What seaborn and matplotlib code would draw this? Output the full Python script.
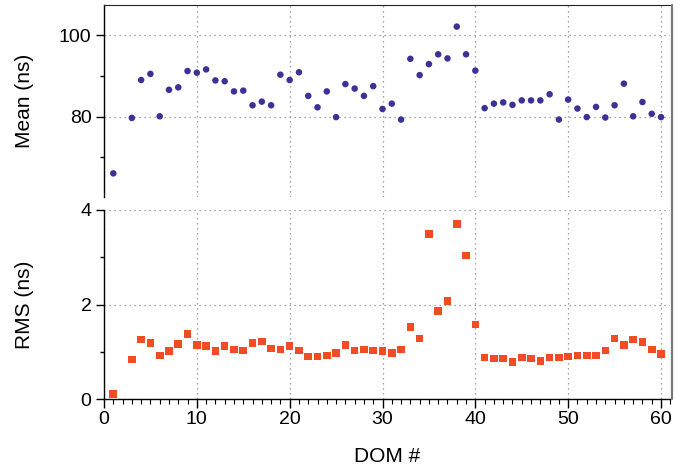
import numpy as np
import pandas as pd
import matplotlib
matplotlib.use("Agg")
import matplotlib.pyplot as plt
import seaborn as sns
from matplotlib.ticker import MultipleLocator, FixedLocator
from matplotlib.lines import Line2D

dom = [1] + list(range(3, 61))
mean_ns = [66.1, 79.7, 89.0, 90.5, 80.1, 86.6, 87.2, 91.2, 90.8, 91.6,
           88.9, 88.7, 86.2, 86.4, 82.8, 83.7, 82.8, 90.3, 89.0, 90.9,
           85.1, 82.3, 86.2, 79.9, 88.0, 86.9, 85.1, 87.5, 81.9, 83.2,
           79.3, 94.2, 90.2, 92.9, 95.3, 94.3, 102.1, 95.3, 91.3, 82.1,
           83.2, 83.5, 82.9, 84.0, 84.0, 84.0, 85.5, 79.3, 84.2, 82.0,
           79.9, 82.4, 79.8, 82.8, 88.1, 80.1, 83.6, 80.7, 79.9]
rms_ns = [0.10, 0.84, 1.26, 1.18, 0.92, 1.01, 1.16, 1.37, 1.14, 1.12,
          1.01, 1.12, 1.05, 1.03, 1.18, 1.22, 1.07, 1.05, 1.12, 1.03,
          0.90, 0.90, 0.92, 0.97, 1.14, 1.03, 1.05, 1.03, 1.01, 0.97,
          1.05, 1.52, 1.28, 3.49, 1.86, 2.07, 3.70, 3.04, 1.58, 0.88,
          0.86, 0.86, 0.78, 0.88, 0.86, 0.80, 0.88, 0.88, 0.90, 0.92,
          0.92, 0.92, 1.03, 1.28, 1.14, 1.26, 1.20, 1.05, 0.95]
x_ticks = [0, 10, 20, 30, 40, 50, 60]

df = pd.DataFrame({"DOM": dom, "Mean": mean_ns, "RMS": rms_ns})

sns.set_style("ticks")
plt.rcParams['font.family'] = ['Liberation Sans', 'DejaVu Sans']
plt.rcParams['text.color'] = 'black'
plt.rcParams['axes.labelcolor'] = 'black'
plt.rcParams['xtick.color'] = 'black'
plt.rcParams['ytick.color'] = 'black'
plt.rcParams['xtick.labelcolor'] = 'black'
plt.rcParams['ytick.labelcolor'] = 'black'

W, H = 686, 468
fig = plt.figure(figsize=(W / 100, H / 100), dpi=100)

def fbox(x0, y0, x1, y1):
    return [x0 / W, 1 - y1 / H, (x1 - x0) / W, (y1 - y0) / H]

ax1 = fig.add_axes(fbox(104, 5, 670.3, 197))
ax2 = fig.add_axes(fbox(104, 210, 670.3, 399))

blue = "#3b3196"
orange = "#f24c24"
spine_gray = "#7a7a7a"

sns.scatterplot(data=df, x="DOM", y="Mean", ax=ax1, color=blue, marker="o",
                s=22, edgecolor="none", zorder=3)
sns.scatterplot(data=df, x="DOM", y="RMS", ax=ax2, color=orange, marker="s",
                s=30, edgecolor="none", zorder=3)

grid_kw = dict(color="#888888", linestyle=(0, (1, 3)), linewidth=0.9)

for ax in (ax1, ax2):
    ax.set_xlim(0, 61)
    ax.xaxis.set_major_locator(FixedLocator(x_ticks))
    ax.grid(True, which="major", **grid_kw)
    ax.set_axisbelow(True)
    ax.spines["left"].set_color("black")
    ax.spines["left"].set_linewidth(1.0)

# Top panel
ax1.set_ylim(60.3, 107.4)
ax1.yaxis.set_major_locator(FixedLocator([80, 100]))
ax1.yaxis.set_minor_locator(FixedLocator([70, 90]))
ax1.spines["bottom"].set_visible(False)
ax1.spines["top"].set_color("#222222")
ax1.spines["right"].set_visible(False)
ax1.tick_params(axis="x", which="both", bottom=False, labelbottom=False)
ax1.set_xlabel("")
ax1.set_ylabel("Mean (ns)", fontsize=15)

# Bottom panel
ax2.set_ylim(0, 4)
ax2.yaxis.set_major_locator(FixedLocator([0, 2, 4]))
ax2.yaxis.set_minor_locator(FixedLocator([1, 3]))
ax2.xaxis.set_minor_locator(MultipleLocator(1))
ax2.spines["top"].set_visible(False)
ax2.spines["right"].set_visible(False)
ax2.spines["bottom"].set_color("black")
ax2.spines["bottom"].set_linewidth(1.0)
ax2.set_xlabel("DOM #", fontsize=15, labelpad=14)
ax2.set_ylabel("RMS (ns)", fontsize=15)

for ax in (ax1, ax2):
    ax.tick_params(axis="y", which="major", length=6, width=1, direction="out",
                   labelsize=14, pad=3)
    ax.tick_params(axis="y", which="minor", length=3, width=1, direction="out")
    ax.yaxis.set_label_coords(-0.123, 0.5)

ax2.tick_params(axis="x", which="major", length=6.5, width=1, direction="out",
                labelsize=14, pad=2)
ax2.tick_params(axis="x", which="minor", length=3.5, width=0.8, direction="out")

# continuous right frame line
fig.add_artist(Line2D([671.5 / W, 671.5 / W], [1 - 5 / H, 1 - 399 / H],
                      transform=fig.transFigure, color=spine_gray, linewidth=1.6))

fig.savefig("out.png", dpi=100)
